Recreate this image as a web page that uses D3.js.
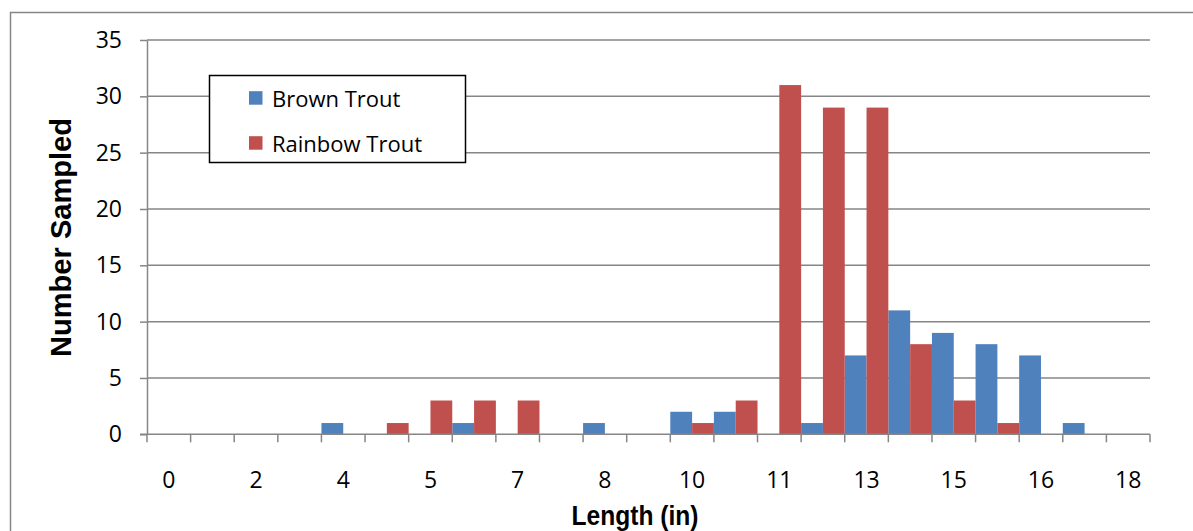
<!DOCTYPE html>
<html>
<head>
<meta charset="utf-8">
<script src="https://cdn.jsdelivr.net/npm/d3@7"></script>
<style>
  html, body { margin: 0; padding: 0; background: #fff; }
  svg { display: block; }
</style>
</head>
<body>
<svg id="chart" width="1193" height="531"></svg>
<script>
// ---- data ----
// length bins (only every other label is shown on the axis)
const categories = ["0","1","2","3","4","4","5","6","7","8","8","9","10","11","11","12","13","14","15","15","16","17","18"];
const brownTrout   = [0,0,0,0,1,0,0,1,0,0,1,0,2,2,0,1,7,11,9,8,7,1,0];
const rainbowTrout = [0,0,0,0,0,1,3,3,3,0,0,0,1,3,31,29,29,8,3,1,0,0,0];
const seriesNames = ["Brown Trout", "Rainbow Trout"];
const seriesColors = ["#4F81BD", "#C0504D"];
const yTicks = [0,5,10,15,20,25,30,35];
const xLabelEvery = 2;

// ---- layout ----
const svg = d3.select("#chart");
const plot = { left: 147, right: 1150, top: 40, bottom: 434.3 };
const gridColor = "#868686";
const tickFont = "'Open Sans', 'Liberation Sans', sans-serif";

// outer chart border
svg.append("rect")
  .attr("x", 10.5).attr("y", 12.5)
  .attr("width", 1200).attr("height", 600)
  .attr("fill", "#fff").attr("stroke", gridColor).attr("stroke-width", 1.5);

const idx = categories.map((d, i) => i);
const x = d3.scaleBand().domain(idx).range([plot.left, plot.right]).paddingInner(0).paddingOuter(0);
const xs = d3.scaleBand().domain([0, 1]).range([0, x.bandwidth()]).padding(0);
const y = d3.scaleLinear().domain([0, 35]).range([plot.bottom, plot.top]);

// gridlines
svg.append("g").selectAll("line")
  .data(yTicks.filter(v => v > 0))
  .join("line")
  .attr("x1", plot.left).attr("x2", plot.right)
  .attr("y1", d => y(d)).attr("y2", d => y(d))
  .attr("stroke", gridColor).attr("stroke-width", 1.5);

// y axis
const yAxis = svg.append("g")
  .attr("transform", `translate(${plot.left},0)`)
  .call(d3.axisLeft(y).tickValues(yTicks).tickSize(7).tickPadding(18).tickSizeOuter(0));
yAxis.select(".domain").attr("stroke", gridColor).attr("stroke-width", 1.5);
yAxis.selectAll(".tick line").attr("stroke", gridColor).attr("stroke-width", 1.5);
yAxis.selectAll(".tick text")
  .attr("font-family", tickFont).attr("font-size", 23).attr("fill", "#000");

// bars
const seriesData = [brownTrout, rainbowTrout];
const barG = svg.append("g");
seriesData.forEach((vals, s) => {
  barG.append("g").selectAll("rect")
    .data(vals.map((v, i) => ({ i, v })).filter(d => d.v > 0))
    .join("rect")
    .attr("x", d => x(d.i) + xs(s))
    .attr("width", xs.bandwidth())
    .attr("y", d => y(d.v))
    .attr("height", d => y(0) - y(d.v))
    .attr("fill", seriesColors[s]);
});

// x axis line
svg.append("line")
  .attr("x1", plot.left - 7).attr("x2", plot.right)
  .attr("y1", y(0)).attr("y2", y(0))
  .attr("stroke", gridColor).attr("stroke-width", 1.5);

// x tick marks at category boundaries
const boundaries = idx.map(i => x(i)).concat([plot.right]);
svg.append("g").selectAll("line")
  .data(boundaries)
  .join("line")
  .attr("x1", d => d).attr("x2", d => d)
  .attr("y1", y(0)).attr("y2", y(0) + 8)
  .attr("stroke", gridColor).attr("stroke-width", 1.5);

// x tick labels
svg.append("g").selectAll("text")
  .data(idx.filter(i => i % xLabelEvery === 0))
  .join("text")
  .attr("x", d => x(d) + x.bandwidth() / 2)
  .attr("y", 488)
  .attr("text-anchor", "middle")
  .attr("font-family", tickFont).attr("font-size", 23).attr("fill", "#000")
  .text(d => categories[d]);

// axis titles
svg.append("text")
  .attr("x", 635).attr("y", 525)
  .attr("text-anchor", "middle")
  .attr("font-family", "'Liberation Sans Narrow', 'Liberation Sans', sans-serif")
  .attr("font-weight", "bold").attr("font-size", 27)
  .attr("textLength", 127).attr("lengthAdjust", "spacingAndGlyphs")
  .text("Length (in)");

svg.append("text")
  .attr("transform", "translate(71,237.5) rotate(-90)")
  .attr("text-anchor", "middle")
  .attr("font-family", "'Liberation Sans', Arial, sans-serif")
  .attr("font-weight", "bold").attr("font-size", 29)
  .attr("textLength", 239).attr("lengthAdjust", "spacingAndGlyphs")
  .text("Number Sampled");

// legend
const lg = svg.append("g");
lg.append("rect")
  .attr("x", 209.5).attr("y", 75.5).attr("width", 256).attr("height", 87)
  .attr("fill", "#fff").attr("stroke", "#000").attr("stroke-width", 1.5);
seriesNames.forEach((name, s) => {
  const baseY = 106.7 + s * 45;
  lg.append("rect")
    .attr("x", 249).attr("y", baseY - 15.5).attr("width", 13.5).attr("height", 13.5)
    .attr("fill", seriesColors[s]);
  lg.append("text")
    .attr("x", 272).attr("y", baseY)
    .attr("font-family", tickFont).attr("font-size", 22).attr("fill", "#000")
    .text(name);
});
</script>
</body>
</html>
